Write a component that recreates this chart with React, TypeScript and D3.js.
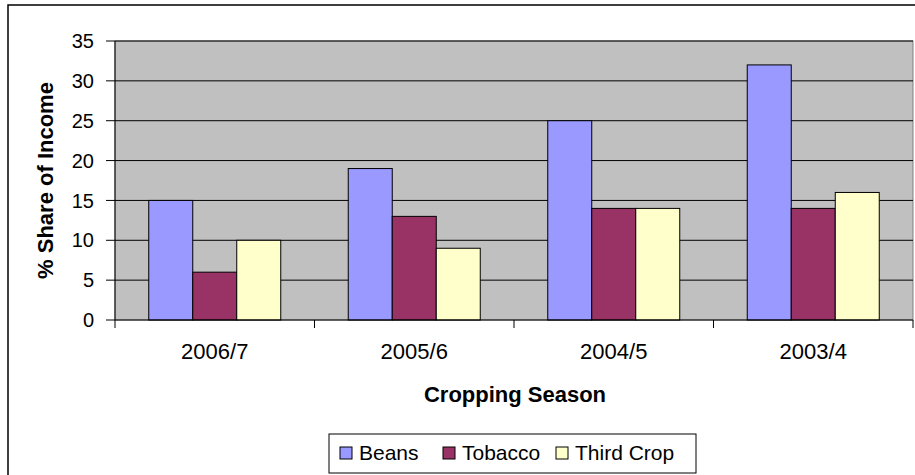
import React from 'react';
import * as d3 from 'd3';

const seasons = ['2006/7', '2005/6', '2004/5', '2003/4'];
const seriesNames = ['Beans', 'Tobacco', 'Third Crop'];
const beans = [15, 19, 25, 32];
const tobacco = [6, 13, 14, 14];
const thirdCrop = [10, 9, 14, 16];
const colors = ['#9999FF', '#993366', '#FFFFCC'];
const yTicks = [0, 5, 10, 15, 20, 25, 30, 35];

const W = 915;
const H = 475;
const plot = { left: 115, right: 913, top: 41, bottom: 320 };
const font = '"Liberation Sans", Arial, sans-serif';

const App = () => {
  const series = [beans, tobacco, thirdCrop];

  const x = d3.scaleBand().domain(seasons).range([plot.left, plot.right]).paddingInner(0).paddingOuter(0);
  const inner = d3
    .scaleBand()
    .domain(seriesNames)
    .range([0, x.bandwidth()])
    .paddingInner(0)
    .paddingOuter(0.767);
  const y = d3.scaleLinear().domain([0, 35]).range([plot.bottom, plot.top]);

  const legendItems = [
    { name: 'Beans', sx: 340, tx: 359 },
    { name: 'Tobacco', sx: 443, tx: 462 },
    { name: 'Third Crop', sx: 556, tx: 575 },
  ];

  return (
    <svg width={W} height={H} style={{ position: 'absolute', left: 0, top: 0, background: '#fff' }} fontFamily={font}>
      {/* outer frame */}
      <rect x={8} y={5} width={W + 10} height={H + 10} fill="#fff" stroke="#000" strokeWidth={1.5} />

      {/* plot background */}
      <rect
        x={plot.left}
        y={plot.top}
        width={plot.right - plot.left}
        height={plot.bottom - plot.top}
        fill="#C0C0C0"
        stroke="#808080"
        strokeWidth={1}
      />

      {/* gridlines */}
      {yTicks.slice(1).map((t) => (
        <line key={'g' + t} x1={plot.left} x2={plot.right} y1={y(t)} y2={y(t)} stroke="#000" strokeWidth={1} />
      ))}

      {/* bars */}
      {seasons.map((s, i) => (
        <g key={s} transform={`translate(${x(s)},0)`}>
          {series.map((vals, j) => (
            <rect
              key={j}
              x={inner(seriesNames[j])}
              y={y(vals[i])}
              width={inner.bandwidth()}
              height={y(0) - y(vals[i])}
              fill={colors[j]}
              stroke="#000"
              strokeWidth={1}
            />
          ))}
        </g>
      ))}

      {/* y axis */}
      <line x1={plot.left} x2={plot.left} y1={plot.top} y2={plot.bottom} stroke="#000" strokeWidth={1} />
      {yTicks.map((t) => (
        <g key={'y' + t}>
          <line x1={plot.left - 9} x2={plot.left} y1={y(t)} y2={y(t)} stroke="#000" strokeWidth={1} />
          <text x={94} y={y(t)} dy="0.36em" textAnchor="end" fontSize={20}>
            {t}
          </text>
        </g>
      ))}

      {/* x axis */}
      <line x1={plot.left} x2={plot.right} y1={plot.bottom} y2={plot.bottom} stroke="#000" strokeWidth={1} />
      {seasons.map((s) => (
        <line key={'xt' + s} x1={x(s)} x2={x(s)} y1={plot.bottom} y2={plot.bottom + 8} stroke="#000" strokeWidth={1} />
      ))}
      <line x1={plot.right} x2={plot.right} y1={plot.bottom} y2={plot.bottom + 8} stroke="#000" strokeWidth={1} />
      {seasons.map((s) => (
        <text key={'xl' + s} x={(x(s) as number) + x.bandwidth() / 2} y={359} textAnchor="middle" fontSize={22}>
          {s}
        </text>
      ))}

      {/* axis titles */}
      <text x={515} y={402} textAnchor="middle" fontSize={22} fontWeight="bold">
        Cropping Season
      </text>
      <text
        transform={`translate(53,${(plot.top + plot.bottom) / 2}) rotate(-90)`}
        textAnchor="middle"
        fontSize={22}
        fontWeight="bold"
      >
        % Share of Income
      </text>

      {/* legend */}
      <rect x={329} y={434} width={367} height={39} fill="#fff" stroke="#000" strokeWidth={1} />
      {legendItems.map((d, j) => (
        <g key={d.name}>
          <rect x={d.sx} y={447} width={12} height={12} fill={colors[j]} stroke="#000" strokeWidth={1} />
          <text x={d.tx} y={460} fontSize={21}>
            {d.name}
          </text>
        </g>
      ))}
    </svg>
  );
};

export default App;
